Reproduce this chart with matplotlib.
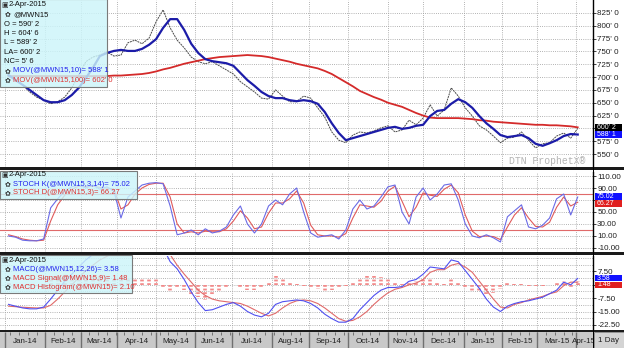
import numpy as np
import pandas as pd
import matplotlib
matplotlib.use("Agg")
import matplotlib.pyplot as plt
from matplotlib.patches import Rectangle

# ---------------- data ----------------
trading_days = pd.bdate_range("2014-01-01", "2015-04-02")
sample_pos = np.arange(2, len(trading_days), 4)          # every 4th trading day

price_close = [704, 694, 685, 671, 661, 655, 648, 652, 661, 679, 704, 730, 739, 743, 749, 741,
               743, 767, 772, 765, 776, 808, 831, 796, 772, 757, 739, 730, 726, 730, 722, 714,
               706, 691, 681, 671, 659, 657, 675, 663, 652, 652, 663, 659, 640, 622, 593, 577,
               572, 587, 593, 591, 595, 601, 605, 593, 597, 616, 607, 620, 646, 624, 636, 679,
               663, 640, 624, 605, 597, 585, 572, 581, 583, 593, 577, 562, 570, 572, 585, 591,
               581, 600]
ma10 = [704, 694, 685, 675, 665, 655, 651, 651, 655, 665, 679, 698, 718, 741, 747, 751,
        753, 751, 751, 755, 763, 774, 796, 813, 813, 792, 765, 747, 735, 731, 729, 727,
        722, 708, 694, 683, 671, 663, 659, 659, 655, 653, 655, 653, 648, 632, 610, 591,
        577, 581, 585, 589, 593, 597, 601, 603, 599, 601, 605, 607, 624, 634, 636, 648,
        657, 651, 640, 624, 610, 599, 587, 583, 585, 587, 581, 570, 566, 571, 577, 585,
        589, 588]
ma100 = [702, 702, 702, 702, 702, 702, 702, 702, 702, 702, 702, 702, 702, 702, 702, 703,
         703, 704, 705, 706, 708, 711, 715, 718, 722, 726, 729, 732, 735, 737, 739, 740,
         741, 742, 743, 742, 741, 739, 736, 733, 730, 726, 723, 720, 717, 712, 706, 698,
         690, 682, 673, 667, 661, 656, 650, 646, 642, 636, 630, 625, 621, 620, 620, 620,
         620, 619, 618, 616, 615, 613, 612, 611, 610, 609, 608, 607, 607, 606, 606, 605,
         604, 602]
stoch_k = [10, 8, 3, 2, 2, 5, 57, 72, 85, 92, 95, 90, 95, 88, 92, 85, 40, 75, 85, 95, 98, 99,
           97, 60, 12, 15, 20, 12, 22, 15, 18, 25, 45, 60, 30, 15, 30, 60, 70, 62, 80, 90, 50,
           15, 8, 10, 12, 5, 20, 55, 70, 55, 60, 75, 92, 95, 50, 30, 75, 90, 70, 80, 95, 97,
           70, 30, 10, 7, 12, 7, 0, 42, 52, 62, 25, 22, 28, 40, 72, 80, 45, 75.02]
stoch_d = [12, 9, 5, 3, 2, 3, 35, 62, 78, 88, 93, 92, 93, 91, 90, 88, 55, 62, 80, 90, 96, 98,
           98, 75, 30, 15, 17, 15, 18, 17, 17, 22, 35, 52, 40, 22, 25, 48, 65, 65, 72, 85, 65,
           28, 12, 10, 10, 8, 14, 40, 62, 60, 58, 68, 85, 93, 68, 42, 58, 82, 78, 76, 88, 95,
           82, 45, 18, 9, 10, 9, 4, 25, 45, 57, 40, 26, 25, 33, 58, 75, 60, 66.27]
macd = [-11, -12, -13, -13.5, -13.5, -12.5, -8, -3, 2, 6, 10, 14, 17, 19, 21, 22, 22, 23, 24,
        25, 27, 28, 21, 13, 9, 3, -4, -10, -14.5, -14, -12.5, -11, -10, -12, -15, -17, -18,
        -16, -11, -9.5, -9, -8.5, -9, -10.5, -13, -16.5, -19, -21, -21, -19, -14, -10, -6,
        -3, -1.5, -1.5, -1, 2, 3, 6, 10, 9.5, 9, 14, 13, 8, 3, -2, -8, -12.5, -15, -12,
        -10.5, -9.5, -9, -8, -7, -5, -3, 1.5, 0, 3.58]
macd_signal = [-12, -12.3, -12.6, -12.8, -13, -13, -11.5, -8, -4, 0, 4, 8, 11, 14, 16, 18, 19,
               20, 21, 22, 23, 24, 22, 17, 11, 6, 1.5, -3, -6, -8, -9, -9.5, -10, -10.5, -12,
               -14, -16, -17.5, -16, -13, -10.5, -9, -8.5, -9, -10.5, -13, -16, -19, -20.5,
               -20, -18, -15, -11, -7.5, -4.5, -2.5, -1.5, 0, 1, 3, 7, 8.5, 8.5, 11, 12, 10,
               7, 2, -3, -8, -12.5, -13, -11, -10, -8.5, -7.5, -6.5, -5, -4, -0.5, 1.5, 1.48]
macd_hist = [1, 0.3, -0.4, -0.7, -0.5, 0.5, 3.5, 5, 6, 6, 6, 6, 6, 5, 5, 4, 3, 3, 3, 3, 4, 4,
             -1, -4, -2, -3, -5.5, -7, -8.5, -6, -3.5, -1.5, 0, -1.5, -3, -3, -2, 1.5, 5, 3.5,
             1.5, 0.5, -0.5, -1.5, -2.5, -3.5, -3, -2, -0.5, 1, 4, 5, 5, 4.5, 3, 1, 0.5, 2, 2,
             3, 3, 1, 0.5, 3, 1, -2, -4, -4, -5, -4.5, -2.5, 1, 0.5, 0.5, -0.5, -0.5, -0.5, 0,
             1, 2, -1.5, 2.1]

price_ticks = [550, 575, 600, 625, 650, 675, 700, 725, 750, 775, 800, 825]
stoch_ticks = [110, 90, 70, 50, 30, 10, -10]
macd_ticks = [7.5, 0, -7.5, -15, -22.5]

# ---------------- layout helpers ----------------
W, H = 624, 348
FONT = ["Liberation Sans", "DejaVu Sans"]
plt.rcParams["font.family"] = FONT

fig = plt.figure(figsize=(W / 100, H / 100), dpi=100)
fig.patch.set_facecolor("white")


def fx(px):
    return px / W


def fy(py):
    return 1 - py / H


def axes_px(x0, y0, x1, y1):
    return fig.add_axes([fx(x0), fy(y1), (x1 - x0) / W, (y1 - y0) / H])


XR = 593
xlim = (-2.85, 334.7)
month_starts = pd.date_range("2014-01-01", "2015-04-01", freq="MS")
month_pos = [trading_days.searchsorted(m) for m in month_starts]
x = sample_pos

GRID = dict(color="#9a9a9a", lw=0.6, linestyle=(0, (1, 1.6)))


def style_panel(ax, ylim, ticks, labels, grid_vals):
    ax.set_xlim(*xlim)
    ax.set_ylim(*ylim)
    for s in ["left", "top", "bottom"]:
        ax.spines[s].set_visible(False)
    ax.spines["right"].set_color("black")
    ax.spines["right"].set_linewidth(1.0)
    ax.yaxis.tick_right()
    ax.set_yticks(ticks)
    ax.set_yticklabels(labels)
    ax.tick_params(axis="y", labelsize=5.8, length=2, pad=1, width=0.6, colors="#202020")
    ax.set_xticks([])
    for g in grid_vals:
        ax.axhline(g, zorder=0, **GRID)
    for m in month_pos:
        ax.axvline(m, zorder=0, **GRID)


# tick labels hidden behind the last-value boxes in the reference
main_labels = ["" if v == 600 else f"{v}' 0" for v in price_ticks]
stoch_labels = ["" if v == 70 else f"{v:.2f}" for v in stoch_ticks]
macd_labels = ["" if v == 0 else f"{v:.2f}" for v in macd_ticks]

# ---------------- main price panel ----------------
ax1 = axes_px(0, 0, XR, 167)
style_panel(ax1, (524.7, 850.3), price_ticks, main_labels, price_ticks)
ax1.plot(x, price_close, color="#4a4a4a", lw=0.7, linestyle=(0, (2, 0.8)), zorder=2)
ax1.plot(x, ma100, color="#d42a2a", lw=1.3, zorder=3)
ax1.plot(x, ma10, color="#1c1ca8", lw=1.6, zorder=4)

# ---------------- stochastic panel ----------------
ax2 = axes_px(0, 172, XR, 252)
style_panel(ax2, (-16.7, 116.7), stoch_ticks, stoch_labels, stoch_ticks)
ax2.axhline(80, color="#e06a6a", lw=0.8, zorder=1)
ax2.axhline(20, color="#e06a6a", lw=0.8, zorder=1)
ax2.plot(x, stoch_d, color="#e05a5a", lw=0.8, zorder=2)
ax2.plot(x, stoch_k, color="#6a6ae6", lw=0.8, zorder=3)

# ---------------- MACD panel ----------------
ax3 = axes_px(0, 256, XR, 330)
mgrid = list(np.arange(-22.5, 16, 3.75))
style_panel(ax3, (-25.4, 16.2), macd_ticks, macd_labels, mgrid)
ax3.vlines(x, 0, macd_hist, color="#f28a8a", lw=2.6, linestyle=(0, (0.5, 0.5)), zorder=1)
ax3.plot(x, macd_signal, color="#e06a6a", lw=0.8, zorder=2)
ax3.plot(x, macd, color="#5050f0", lw=0.8, zorder=3)

# ---------------- date strip ----------------
ax4 = axes_px(0, 332, XR, 348)
ax4.set_facecolor("#c8c8c8")
ax4.set_xlim(*xlim)
ax4.set_ylim(0, 1)
ax4.set_xticks([])
ax4.set_yticks([])
for s in ax4.spines.values():
    s.set_visible(False)
mondays = np.where(trading_days.dayofweek == 0)[0]
ax4.vlines(mondays, 0.82, 1.0, color="#505050", lw=0.5)
ax4.vlines(month_pos, 0, 1, color="#707070", lw=1.0)
bounds = month_pos + [xlim[1]]
for i, m in enumerate(month_starts):
    c = (bounds[i] + bounds[i + 1]) / 2
    ax4.text(c, 0.42, m.strftime("%b-%y"), ha="center", va="center", fontsize=5.8,
             color="#202020", clip_on=True)

# ---------------- separators & right column ----------------
for (y0, y1) in [(167, 170), (252, 255), (330, 332)]:
    fig.add_artist(Rectangle((0, fy(y1)), 1, (y1 - y0) / H, transform=fig.transFigure,
                             color="#1a1a1a", lw=0))
fig.add_artist(Rectangle((fx(XR), 0), 1.2 / W, 1, transform=fig.transFigure,
                         color="black", lw=0))
fig.add_artist(Rectangle((fx(594), fy(348)), 30 / W, 16 / H, transform=fig.transFigure,
                         facecolor="#d4d4d4", edgecolor="#808080", lw=0.6))
fig.text(fx(609), fy(340), "1 Day", ha="center", va="center", fontsize=5.8, color="#202020")


def value_box(py, txt, fc, tc="white", h=6.6):
    fig.add_artist(Rectangle((fx(595), fy(py + h / 2)), 27 / W, h / H,
                             transform=fig.transFigure, color=fc, lw=0))
    fig.text(fx(597), fy(py), txt, ha="left", va="center", fontsize=5.0, color=tc)


value_box(127.3, "600' 2", "black")
value_box(134.3, "588' 1", "#1010ff")
value_box(203.6, "66.27", "#e02020")
value_box(196.6, "75.02", "#1010ff")
value_box(285.0, "1.48", "#e02020")
value_box(278.0, "3.58", "#1010ff")

# watermark
fig.text(fx(547), fy(161), "DTN ProphetX®", ha="center", va="center", fontsize=7,
         color="#b4b4b4", family=["Liberation Mono", "DejaVu Sans Mono"])

# ---------------- legend boxes ----------------
LEG_FC = (0.80, 0.96, 0.98, 0.82)


def legend_box(x0, y0, x1, y1):
    fig.add_artist(Rectangle((fx(x0), fy(y1)), (x1 - x0) / W, (y1 - y0) / H,
                             transform=fig.transFigure, facecolor=LEG_FC,
                             edgecolor="#7a7a7a", lw=0.8))


def leg_text(px, py, txt, color="#101010", icon=None):
    if icon:
        fig.text(fx(px - 8), fy(py), icon, ha="left", va="center", fontsize=5,
                 color="#303030", family=["DejaVu Sans"])
    fig.text(fx(px), fy(py), txt, ha="left", va="center", fontsize=5.5, color=color)


BLUE = "#2222ee"
RED = "#e03030"

legend_box(0, -1, 107, 87)
leg_text(9, 5, "2-Apr-2015", icon="▣")
leg_text(13, 14.5, "@MWN15", icon="✿")
leg_text(4, 24, "O = 590' 2")
leg_text(4, 33.5, "H = 604' 6")
leg_text(4, 43, "L = 589' 2")
leg_text(4, 52, "LA= 600' 2")
leg_text(4, 61.5, "NC= 5' 6")
leg_text(13, 71, "MOV(@MWN15,10)= 588' 1", BLUE, icon="✿")
leg_text(13, 80, "MOV(@MWN15,100)= 602' 0", RED, icon="✿")

legend_box(0, 171, 137, 199)
leg_text(9, 175, "2-Apr-2015", icon="▣")
leg_text(13, 184, "STOCH K(@MWN15,3,14)= 75.02", BLUE, icon="✿")
leg_text(13, 193, "STOCH D(@MWN15,3)= 66.27", RED, icon="✿")

legend_box(0, 255, 132, 293)
leg_text(9, 260, "2-Apr-2015", icon="▣")
leg_text(13, 269.5, "MACD(@MWN15,12,26)= 3.58", BLUE, icon="✿")
leg_text(13, 278.5, "MACD Signal(@MWN15,9)= 1.48", RED, icon="✿")
leg_text(13, 287.5, "MACD Histogram(@MWN15)= 2.10", RED, icon="✿")

fig.savefig("out.png", dpi=100)
